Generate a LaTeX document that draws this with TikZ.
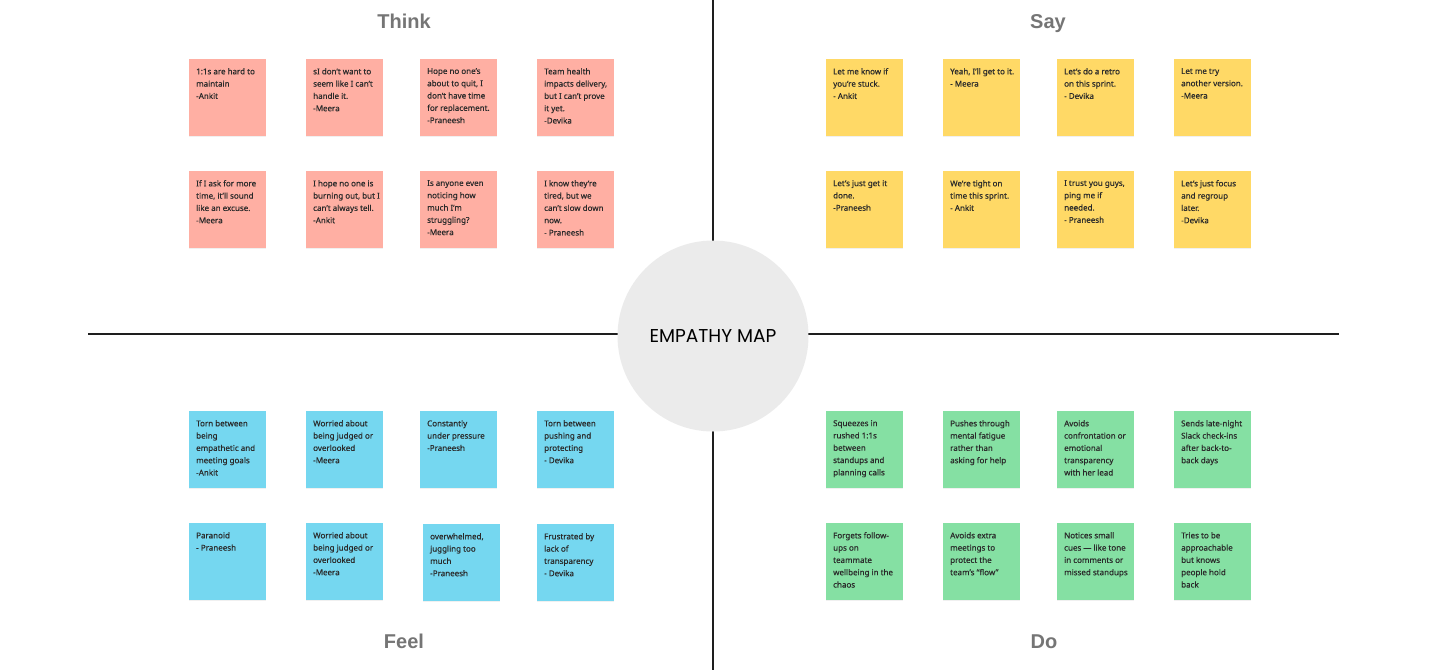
\documentclass[tikz,border=0pt]{standalone}
\usepackage{fontspec}
\setmainfont{Noto Sans}
\newfontfamily\notefont{Noto Sans}[RawFeature={embolden=0.45}]
\newfontfamily\titlefont{Liberation Sans}
\newfontfamily\centerfont{Poppins}
\usetikzlibrary{shadows}
\definecolor{thinkc}{HTML}{FFAFA3}
\definecolor{sayc}{HTML}{FFD966}
\definecolor{feelc}{HTML}{75D7F0}
\definecolor{doc}{HTML}{85E0A3}
\definecolor{circc}{HTML}{EBEBEB}
\definecolor{titlec}{HTML}{757575}
\definecolor{txtc}{HTML}{2A2A2A}
\definecolor{linec}{HTML}{1E1E1E}
\newcommand{\nt}[1]{\hbox{\hspace*{7pt}\parbox[c][77pt][t]{70pt}{\vspace*{9pt}\raggedright\notefont\fontsize{8}{12.3}\selectfont #1}}}
\tikzset{
  sticky/.style={rectangle, anchor=north west, minimum width=77pt, minimum height=77pt, inner sep=0pt,
    text=txtc, drop shadow={shadow xshift=0pt, shadow yshift=-0.8pt, opacity=0.12}},
  thinknote/.style={sticky, fill=thinkc},
  saynote/.style={sticky, fill=sayc},
  feelnote/.style={sticky, fill=feelc},
  donote/.style={sticky, fill=doc},
  quadtitle/.style={anchor=base, font=\titlefont\bfseries\fontsize{20}{24}\selectfont, text=titlec},
  axis/.style={draw=linec, line width=1.4pt}
}
\begin{document}
\begin{tikzpicture}[x=1pt, y=-1pt]
\useasboundingbox (0,0) rectangle (1440,670);
% axes
\coordinate (vtop) at (713,0);
\coordinate (vbot) at (713,670);
\coordinate (hleft) at (88,334);
\coordinate (hright) at (1339,334);
\draw[axis] (vtop) -- (vbot);
\draw[axis] (hleft) -- (hright);
\node[circle, fill=circc, minimum size=191pt, inner sep=0pt, font=\centerfont\fontsize{18.6}{22}\selectfont] (center) at (713,336) {EMPATHY MAP};
% titles
\node[quadtitle] (tthink) at (404,28) {Think};
\node[quadtitle] (tsay) at (1048,28) {Say};
\node[quadtitle] (tfeel) at (404,648) {Feel};
\node[quadtitle] (tdo) at (1044,648) {Do};
% Think
\node[thinknote] (th1) at (189,59) {\nt{1:1s are hard to\\maintain\\-Ankit}};
\node[thinknote] (th2) at (306,59) {\nt{sI don’t want to\\seem like I can’t\\handle it.\\-Meera}};
\node[thinknote] (th3) at (420,59) {\nt{Hope no one’s\\about to quit, I\\don’t have time\\for replacement.\\-Praneesh}};
\node[thinknote] (th4) at (537,59) {\nt{Team health\\impacts delivery,\\but I can’t prove\\it yet.\\-Devika}};
\node[thinknote] (th5) at (189,171) {\nt{If I ask for more\\time, it’ll sound\\like an excuse.\\-Meera}};
\node[thinknote] (th6) at (306,171) {\nt{I hope no one is\\burning out, but I\\can’t always tell.\\-Ankit}};
\node[thinknote] (th7) at (420,171) {\nt{Is anyone even\\noticing how\\much I’m\\struggling?\\-Meera}};
\node[thinknote] (th8) at (537,171) {\nt{I know they’re\\tired, but we\\can’t slow down\\now.\\- Praneesh}};
% Say
\node[saynote] (sa1) at (826,59) {\nt{Let me know if\\you’re stuck.\\- Ankit}};
\node[saynote] (sa2) at (943,59) {\nt{Yeah, I’ll get to it.\\- Meera}};
\node[saynote] (sa3) at (1057,59) {\nt{Let’s do a retro\\on this sprint.\\- Devika}};
\node[saynote] (sa4) at (1174,59) {\nt{Let me try\\another version.\\-Meera}};
\node[saynote] (sa5) at (826,171) {\nt{Let’s just get it\\done.\\-Praneesh}};
\node[saynote] (sa6) at (943,171) {\nt{We’re tight on\\time this sprint.\\- Ankit}};
\node[saynote] (sa7) at (1057,171) {\nt{I trust you guys,\\ping me if\\needed.\\- Praneesh}};
\node[saynote] (sa8) at (1174,171) {\nt{Let’s just focus\\and regroup\\later.\\-Devika}};
% Feel
\node[feelnote] (fe1) at (189,411) {\nt{Torn between\\being\\empathetic and\\meeting goals\\-Ankit}};
\node[feelnote] (fe2) at (306,411) {\nt{Worried about\\being judged or\\overlooked\\-Meera}};
\node[feelnote] (fe3) at (420,411) {\nt{Constantly\\under pressure\\-Praneesh}};
\node[feelnote] (fe4) at (537,411) {\nt{Torn between\\pushing and\\protecting\\- Devika}};
\node[feelnote] (fe5) at (189,523) {\nt{Paranoid\\- Praneesh}};
\node[feelnote] (fe6) at (306,523) {\nt{Worried about\\being judged or\\overlooked\\-Meera}};
\node[feelnote] (fe7) at (423,524) {\nt{overwhelmed,\\juggling too\\much\\-Praneesh}};
\node[feelnote] (fe8) at (537,524) {\nt{Frustrated by\\lack of\\transparency\\- Devika}};
% Do
\node[donote] (do1) at (826,411) {\nt{Squeezes in\\rushed 1:1s\\between\\standups and\\planning calls}};
\node[donote] (do2) at (943,411) {\nt{Pushes through\\mental fatigue\\rather than\\asking for help}};
\node[donote] (do3) at (1057,411) {\nt{Avoids\\confrontation or\\emotional\\transparency\\with her lead}};
\node[donote] (do4) at (1174,411) {\nt{Sends late-night\\Slack check-ins\\after back-to-\\back days}};
\node[donote] (do5) at (826,523) {\nt{Forgets follow-\\ups on\\teammate\\wellbeing in the\\chaos}};
\node[donote] (do6) at (943,523) {\nt{Avoids extra\\meetings to\\protect the\\team’s “flow”}};
\node[donote] (do7) at (1057,523) {\nt{Notices small\\cues — like tone\\in comments or\\missed standups}};
\node[donote] (do8) at (1174,523) {\nt{Tries to be\\approachable\\but knows\\people hold\\back}};
\end{tikzpicture}
\end{document}
